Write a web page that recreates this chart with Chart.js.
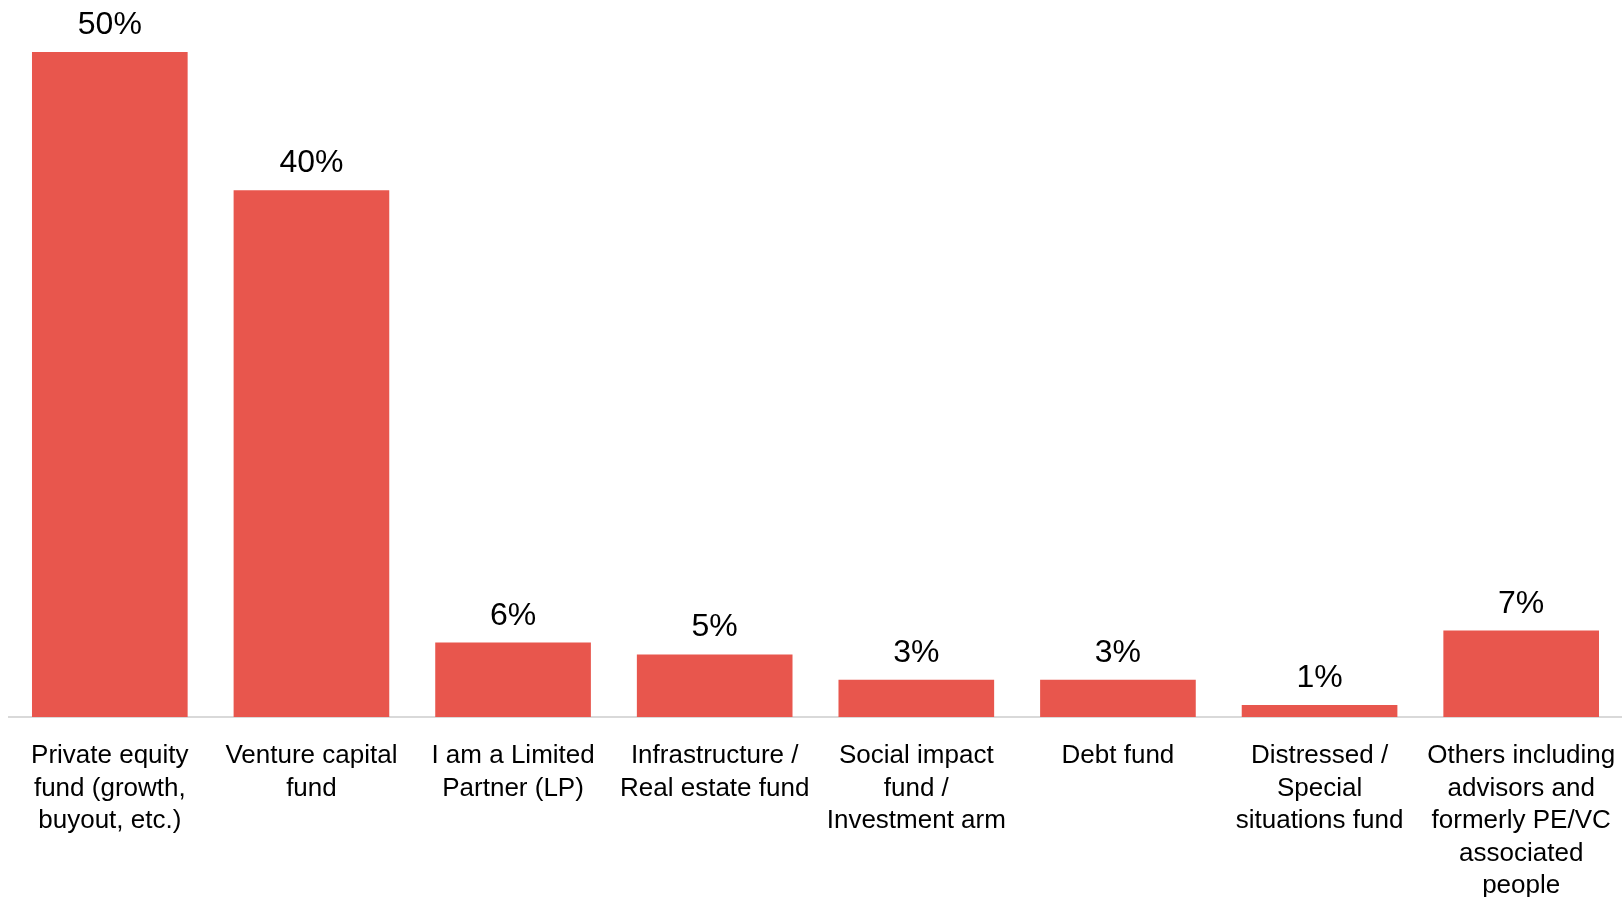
<!DOCTYPE html>
<html>
<head>
<meta charset="utf-8">
<script src="https://cdn.jsdelivr.net/npm/chart.js@4"></script>
<style>
html,body{margin:0;padding:0;background:#fff;}
#wrap{width:1622px;height:897px;position:relative;}
</style>
</head>
<body>
<div id="wrap"><canvas id="c"></canvas></div>
<script>
const categories = [
  ["Private equity", "fund (growth,", "buyout, etc.)"],
  ["Venture capital", "fund"],
  ["I am a Limited", "Partner (LP)"],
  ["Infrastructure /", "Real estate fund"],
  ["Social impact", "fund /", "Investment arm"],
  ["Debt fund"],
  ["Distressed /", "Special", "situations fund"],
  ["Others including", "advisors and", "formerly PE/VC", "associated", "people"]
];
const shares = [50, 39.6, 5.6, 4.7, 2.8, 2.8, 0.9, 6.5];
const yMax = 53.9;

const valueLabels = {
  id: 'valueLabels',
  afterDatasetsDraw(chart) {
    const ctx = chart.ctx;
    const meta = chart.getDatasetMeta(0);
    ctx.save();
    ctx.font = '32px "Liberation Sans", Arial, sans-serif';
    ctx.fillStyle = '#000';
    ctx.textAlign = 'center';
    ctx.textBaseline = 'alphabetic';
    meta.data.forEach((bar, i) => {
      ctx.fillText(Math.round(shares[i]) + '%', bar.x, bar.y - 18);
    });
    ctx.restore();
  }
};

new Chart(document.getElementById('c'), {
  type: 'bar',
  data: {
    labels: categories,
    datasets: [{
      data: shares,
      backgroundColor: '#E8564D',
      borderWidth: 0,
      categoryPercentage: 1,
      barPercentage: 0.772
    }]
  },
  options: {
    responsive: true,
    maintainAspectRatio: false,
    animation: false,
    layout: { padding: { left: 9, right: 0, top: 0, bottom: 0 } },
    plugins: { legend: { display: false }, tooltip: { enabled: false } },
    scales: {
      x: {
        grid: { display: false, drawTicks: false },
        border: { display: true, color: '#D9D9D9', width: 2 },
        afterFit(scale) {
          scale.height -= scale.options.ticks.padding + 5;
          scale.paddingLeft = 0;
          scale.paddingRight = 0;
        },
        ticks: {
          autoSkip: false,
          maxRotation: 0,
          minRotation: 0,
          padding: 23,
          color: '#000',
          font: { family: '"Liberation Sans", Arial, sans-serif', size: 26, lineHeight: '32.4px' }
        }
      },
      y: {
        display: false,
        min: 0,
        max: yMax
      }
    }
  },
  plugins: [valueLabels]
});
</script>
</body>
</html>
